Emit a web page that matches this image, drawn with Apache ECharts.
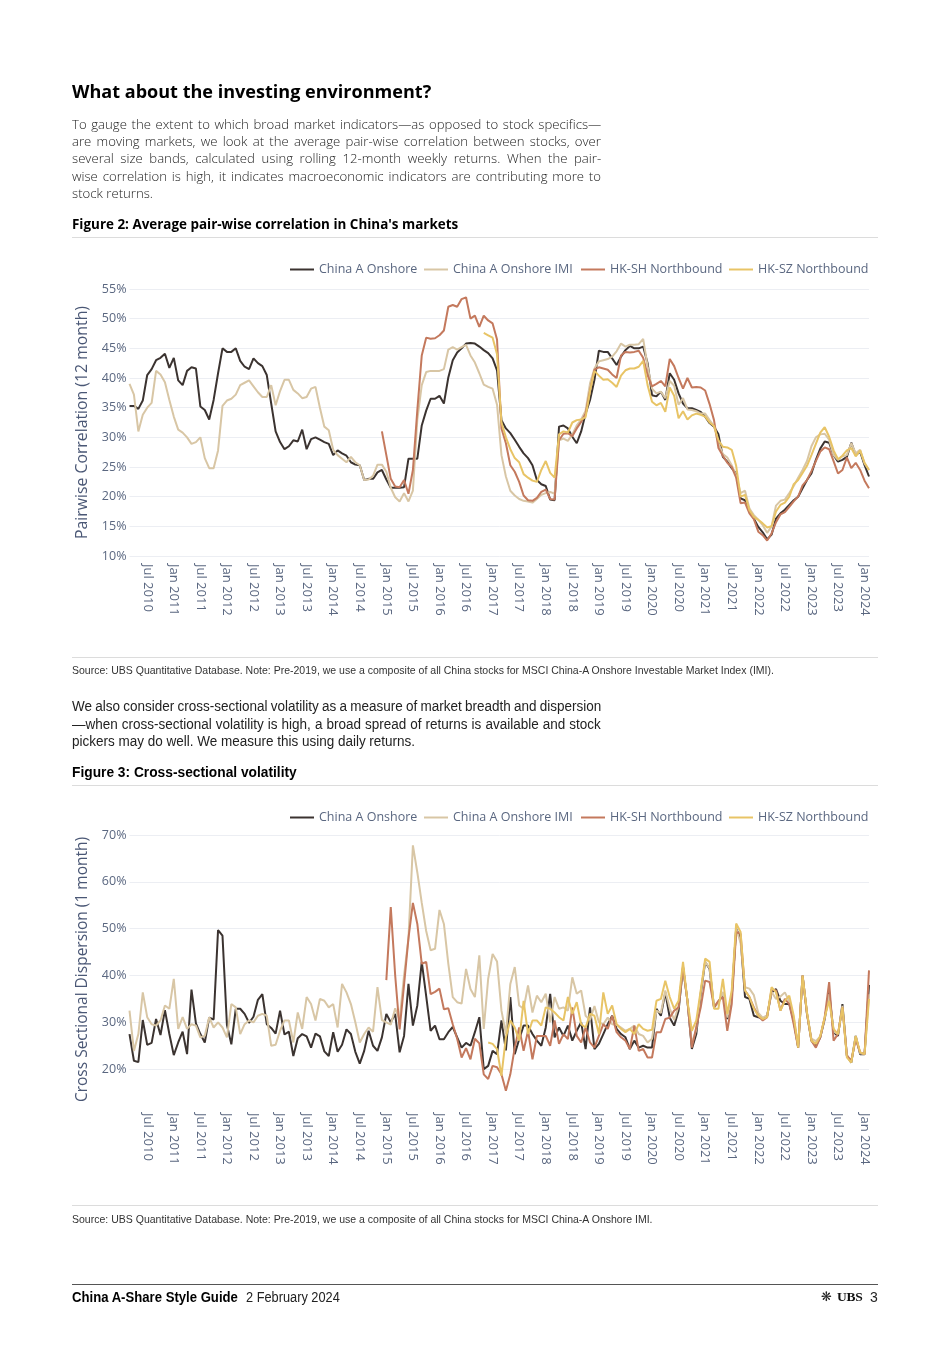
<!DOCTYPE html>
<html>
<head>
<meta charset="utf-8">
<script src="https://cdn.jsdelivr.net/npm/echarts/dist/echarts.min.js"></script>
<style>
  html,body{margin:0;padding:0;background:#fff;}
  body{width:950px;height:1345px;position:relative;overflow:hidden;}
  #chart{position:absolute;left:0;top:0;width:950px;height:1345px;z-index:0;}
  .t{position:absolute;white-space:nowrap;display:inline-block;transform-origin:0 50%;z-index:2;color:#111;line-height:1.2;}
  .rule{position:absolute;left:72px;width:806px;height:1px;background:#dcdcdc;z-index:2;}
  .sans{font-family:'Open Sans','Noto Sans',sans-serif;}
  .narrow{font-family:'Liberation Sans Narrow','Liberation Sans','Arial Narrow',sans-serif;}
</style>
</head>
<body>
<div id="chart"></div>

<div class="t sans" data-w="359" style="left:72px;top:81px;font-size:18px;font-weight:700;color:#000;">What about the investing environment?</div>

<div class="t sans p1" style="left:72px;top:116.8px;font-size:13px;font-weight:300;color:#222;">To gauge the extent to which broad market indicators—as opposed to stock specifics—</div>
<div class="t sans p1" style="left:72px;top:134px;font-size:13px;font-weight:300;color:#222;">are moving markets, we look at the average pair-wise correlation between stocks, over</div>
<div class="t sans p1" style="left:72px;top:151.3px;font-size:13px;font-weight:300;color:#222;">several size bands, calculated using rolling 12-month weekly returns. When the pair-</div>
<div class="t sans p1" style="left:72px;top:168.7px;font-size:13px;font-weight:300;color:#222;">wise correlation is high, it indicates macroeconomic indicators are contributing more to</div>
<div class="t sans p1" style="left:72px;top:185.9px;font-size:13px;font-weight:300;color:#222;">stock returns.</div>

<div class="t sans" data-w="386" style="left:72px;top:215.5px;font-size:13.5px;font-weight:700;color:#000;">Figure 2: Average pair-wise correlation in China's markets</div>
<div class="rule" style="top:236.5px;"></div>

<div class="rule" style="top:656.5px;"></div>
<div class="t narrow" data-w="702" style="left:72px;top:663.5px;font-size:10.5px;color:#333;">Source: UBS Quantitative Database. Note: Pre-2019, we use a composite of all China stocks for MSCI China-A Onshore Investable Market Index (IMI).</div>

<div class="t narrow p2" style="left:72px;top:698.3px;font-size:14px;color:#222;">We also consider cross-sectional volatility as a measure of market breadth and dispersion</div>
<div class="t narrow p2" style="left:72px;top:715.8px;font-size:14px;color:#222;">—when cross-sectional volatility is high, a broad spread of returns is available and stock</div>
<div class="t narrow p2" style="left:72px;top:733.3px;font-size:14px;color:#222;">pickers may do well. We measure this using daily returns.</div>

<div class="t narrow" data-w="225" style="left:72px;top:764px;font-size:14px;font-weight:700;color:#000;">Figure 3: Cross-sectional volatility</div>
<div class="rule" style="top:784.5px;"></div>

<div class="rule" style="top:1204.5px;"></div>
<div class="t narrow" data-w="581" style="left:72px;top:1213px;font-size:10.5px;color:#333;">Source: UBS Quantitative Database. Note: Pre-2019, we use a composite of all China stocks for MSCI China-A Onshore IMI.</div>

<div class="rule" style="top:1283.5px;height:1.5px;background:#555;"></div>
<div class="t narrow" data-w="166" style="left:72px;top:1288.5px;font-size:14px;font-weight:700;color:#000;">China A-Share Style Guide</div>
<div class="t narrow" data-w="94" style="left:246px;top:1288.5px;font-size:14px;color:#222;">2 February 2024</div>
<div class="t" style="left:821px;top:1289px;font-size:13px;color:#222;font-family:'DejaVu Sans',sans-serif;">❋</div>
<div class="t" style="left:837px;top:1288.5px;font-size:13.5px;font-weight:700;color:#111;font-family:'Liberation Serif',serif;letter-spacing:-0.3px;">UBS</div>
<div class="t narrow" style="left:870px;top:1288.5px;font-size:14px;color:#222;">3</div>

<script>
// ---------------- DATA ----------------
// Monthly observations, first month = March 2010, last = February 2024 (168 months)
const firstMonth = '2010-03';
const monthCount = 168;
const monthNames = ['Jan','Feb','Mar','Apr','May','Jun','Jul','Aug','Sep','Oct','Nov','Dec'];
const seriesNames = ['China A Onshore','China A Onshore IMI','HK-SH Northbound','HK-SZ Northbound'];

// Figure 2: average pair-wise correlation (%), rolling 12 months
const corrOnshore = [35.3,35.3,34.8,36.2,40.5,41.5,43.0,43.4,44.1,41.7,
 43.4,39.6,38.8,41.2,41.8,41.6,35.2,34.6,33.0,36.3,
 40.8,45.0,44.4,44.4,45.0,42.9,41.9,41.5,43.3,42.5,
 42.0,40.5,35.7,31.0,29.2,28.0,28.5,29.5,29.3,31.3,
 28.0,29.7,30.0,29.6,29.2,28.9,27.0,27.8,27.3,26.9,
 25.8,25.4,25.3,22.8,23.0,23.0,24.1,24.5,22.9,21.5,
 21.5,21.5,21.6,26.4,26.4,26.4,32.0,34.5,36.5,36.5,
 37.0,35.7,40.1,43.0,44.3,45.0,45.8,45.9,45.8,45.3,
 44.7,44.2,43.3,41.3,32.9,31.5,30.7,29.6,28.4,27.3,
 26.5,25.3,22.8,22.1,21.8,19.5,19.4,31.8,32.0,31.5,
 30.1,29.0,31.0,34.0,36.3,39.7,44.6,44.4,44.4,43.3,
 42.2,43.6,44.7,45.4,45.0,45.0,45.3,42.5,37.1,36.9,
 37.7,36.3,40.8,39.7,37.4,35.7,34.9,34.9,34.6,34.3,
 33.5,32.4,31.8,30.5,26.7,25.9,24.8,23.9,19.7,19.4,
 17.8,16.3,14.9,14.0,12.8,13.6,16.3,17.2,17.8,18.6,
 19.4,20.0,21.4,22.8,23.9,26.2,28.1,29.3,29.1,27.0,
 25.9,26.2,26.7,29.1,27.0,27.6,25.3,23.4];
const corrOnshoreIMI = [39.0,37.2,31.0,33.8,35.0,35.8,41.2,40.6,39.3,36.3,
 33.5,31.3,30.8,30.0,28.9,29.2,30.0,26.5,24.8,24.8,
 27.8,35.3,36.2,36.5,37.2,38.8,39.2,39.6,38.6,37.6,
 36.8,36.8,38.8,35.4,37.8,39.7,39.7,38.0,37.4,36.6,
 36.8,38.2,38.5,35.0,31.8,31.2,27.9,27.0,26.4,25.8,
 26.7,25.8,25.3,22.8,22.9,23.5,25.4,25.4,24.2,21.5,
 19.9,19.2,20.6,19.2,21.0,33.0,38.8,41.0,41.2,41.2,
 41.2,41.5,44.8,45.2,44.8,45.2,45.6,43.8,42.6,40.8,
 38.9,38.5,38.2,35.5,27.0,23.4,21.0,20.2,19.6,19.3,
 19.2,19.0,19.6,20.3,20.6,20.8,20.5,29.5,29.8,29.4,
 30.5,32.0,33.0,34.5,39.1,41.6,42.8,43.0,43.2,43.6,
 44.5,45.8,45.3,45.6,45.6,45.7,46.6,42.0,38.2,37.4,
 37.7,36.6,39.5,38.7,35.5,36.6,34.7,34.6,34.4,34.0,
 34.0,32.9,31.9,29.0,27.2,26.6,25.3,23.5,20.6,21.0,
 18.0,16.9,16.1,15.2,13.9,15.0,18.5,19.3,19.5,20.6,
 21.8,23.2,24.5,26.0,28.5,30.0,30.5,30.6,29.6,27.0,
 26.2,26.8,27.0,29.0,27.3,27.9,25.6,24.5];
const corrHKSHStart = '2014-12';
const corrHKSH = [31.0,27.0,23.0,
 21.7,21.6,22.8,20.5,24.5,34.6,43.8,46.8,46.6,46.7,
 47.2,48.0,52.0,52.3,52.0,53.3,53.6,50.0,50.5,48.6,
 50.5,49.7,49.2,46.5,31.5,29.0,25.3,24.2,22.5,20.2,
 19.4,19.3,19.8,20.8,21.2,19.6,19.5,29.5,30.6,30.7,
 30.2,31.5,32.6,34.0,37.9,41.4,41.8,41.6,41.4,40.6,
 40.0,43.8,44.4,44.3,44.4,44.6,43.4,40.5,38.6,39.0,
 39.5,38.6,43.2,42.0,40.0,38.2,40.0,38.4,38.5,38.4,
 37.9,35.6,32.9,28.2,26.9,25.7,25.0,23.2,18.9,19.0,
 17.2,16.2,14.1,13.5,12.6,13.8,15.7,17.0,17.4,18.3,
 19.2,20.0,21.9,22.8,24.3,26.0,27.6,28.3,28.0,26.0,
 23.9,24.5,26.6,24.8,25.7,24.5,22.7,21.4];
const corrHKSZStart = '2016-11';
const corrHKSZ = [47.6,47.2,46.8,44.0,32.5,30.0,28.0,26.5,25.8,23.8,
 23.2,22.7,22.5,24.5,26.0,24.0,23.2,30.5,31.0,30.8,
 32.5,32.9,33.0,33.4,37.8,41.2,40.4,39.7,39.8,39.2,
 38.5,40.4,41.3,41.6,41.6,41.9,42.9,38.8,36.0,35.4,
 35.8,34.3,38.4,37.0,33.2,34.4,33.0,33.7,34.0,33.8,
 33.5,32.5,31.9,29.5,28.4,28.3,27.9,25.2,20.0,20.3,
 17.7,16.6,16.1,15.5,14.8,15.0,17.5,18.6,19.0,20.0,
 22.1,22.8,24.0,25.2,27.0,28.9,30.8,31.7,30.1,27.8,
 26.3,26.9,27.8,28.2,26.8,27.8,25.7,24.5];

// Figure 3: cross-sectional dispersion (%), 1 month
const dispOnshore = [27.5,21.8,21.5,30.5,25.2,25.6,30.7,27.3,32.6,27.5,
 23.0,25.7,28.0,23.2,37.0,29.8,27.5,25.7,31.0,30.6,
 49.7,48.5,29.5,25.3,32.9,32.9,31.8,29.9,31.2,34.8,
 36.0,29.6,28.8,27.6,32.5,27.4,28.0,22.8,26.6,27.5,
 27.0,24.6,27.6,27.0,23.8,22.8,27.9,23.7,25.2,28.5,
 27.5,23.7,21.2,23.9,28.2,25.0,23.9,26.8,31.8,30.0,
 31.8,23.6,27.1,38.2,29.3,33.6,42.9,35.6,28.2,29.3,
 26.4,26.4,27.9,29.0,26.8,24.6,25.6,25.0,27.9,31.1,
 20.0,20.7,23.9,23.2,30.4,24.0,35.4,23.2,26.4,29.3,
 29.3,27.5,26.1,25.0,28.9,36.1,26.8,28.9,27.1,29.3,
 26.1,28.2,30.0,24.3,33.2,24.3,25.4,27.5,29.6,31.4,
 28.6,27.5,26.8,24.3,26.1,24.6,25.0,24.6,24.6,32.9,
 31.4,36.4,31.0,29.3,32.5,41.8,34.6,24.3,27.5,36.1,
 42.9,41.4,33.2,34.3,36.1,30.7,35.4,50.0,47.9,35.4,
 35.0,31.4,31.1,30.7,31.4,36.4,37.1,34.6,33.9,33.9,
 30.4,24.6,40.0,31.8,26.1,25.0,26.8,30.7,36.4,27.9,
 27.1,33.9,22.9,21.4,27.1,23.2,23.2,38.0];
const dispOnshoreIMI = [32.5,23.9,27.5,36.4,31.1,29.6,29.3,30.4,33.6,32.9,
 39.3,28.6,31.1,28.6,29.6,29.3,26.8,27.1,31.1,28.9,
 30.0,28.9,26.8,33.9,33.2,27.5,29.6,30.4,30.0,31.4,
 31.8,31.4,25.0,25.2,28.2,30.4,30.4,25.7,32.1,28.6,
 35.4,33.9,30.4,35.0,34.6,33.2,33.9,28.9,38.2,36.4,
 33.9,30.0,25.7,27.5,28.9,28.0,37.5,30.5,30.0,29.5,
 33.0,30.5,40.0,48.0,67.8,62.0,55.5,49.5,45.4,45.7,
 54.0,51.0,42.5,35.4,34.3,34.0,41.4,37.1,35.4,44.3,
 28.6,39.3,44.6,43.0,32.5,27.5,38.2,41.8,33.6,32.9,
 37.9,32.1,35.7,34.3,36.1,30.0,35.4,32.9,33.2,32.5,
 39.6,36.1,36.8,31.4,30.5,33.5,30.0,29.6,31.0,29.6,
 29.5,28.9,28.2,28.6,29.3,27.5,27.1,25.7,26.5,32.5,
 32.0,36.8,33.0,30.5,33.5,42.0,34.5,25.5,28.5,36.5,
 43.0,41.5,33.5,34.0,36.5,31.0,35.5,50.0,47.0,37.5,
 37.2,35.8,32.0,31.0,31.5,36.5,35.0,35.5,36.4,34.5,
 31.0,25.0,40.0,32.0,26.5,26.0,27.0,31.0,36.0,28.0,
 27.5,33.5,23.0,21.6,27.0,23.4,23.2,36.0];
const dispHKSHStart = '2015-01';
const dispHKSH = [39.0,54.6,
 40.0,28.5,38.0,48.0,55.5,51.0,42.5,42.9,36.0,36.5,
 37.2,32.8,33.0,29.6,26.5,22.5,24.5,22.1,26.5,25.5,
 18.9,17.9,20.7,20.4,18.9,15.4,18.9,24.6,28.9,23.9,
 28.2,22.1,27.1,27.1,27.1,25.0,30.4,25.4,27.5,26.4,
 33.2,27.1,25.7,28.9,25.7,24.6,27.1,29.6,28.6,31.4,
 27.9,26.8,26.1,24.3,29.3,23.9,24.3,22.5,22.5,27.9,
 27.9,30.7,31.0,32.5,33.2,41.8,34.6,24.6,29.0,33.2,
 38.9,38.6,33.2,34.6,35.4,28.2,33.9,49.3,48.9,36.8,
 35.4,33.2,31.4,30.4,31.1,37.1,36.8,32.5,35.0,33.9,
 29.6,24.6,40.0,31.8,26.1,24.6,26.8,31.1,38.6,26.1,
 27.5,33.2,22.9,21.8,26.4,23.6,23.2,41.1];
const dispHKSZStart = '2016-12';
const dispHKSZ = [25.7,25.4,24.3,18.6,26.8,30.4,28.9,26.1,34.6,
 27.5,30.4,30.4,29.3,33.2,32.9,32.1,31.1,30.4,35.4,
 31.8,34.3,29.6,28.9,31.8,31.4,27.5,36.4,31.8,33.6,
 29.6,28.6,27.9,28.6,27.5,29.6,28.6,28.2,28.4,34.6,
 35.0,38.9,35.4,32.9,34.6,42.9,34.6,28.2,30.4,36.8,
 43.6,42.9,32.9,32.9,39.3,31.8,36.8,51.1,49.3,36.8,
 35.4,32.9,31.4,30.7,31.1,37.5,36.4,32.5,34.6,35.7,
 31.4,24.6,40.0,32.1,26.1,25.4,27.1,31.1,34.6,28.6,
 27.5,33.2,22.5,21.4,27.1,23.6,23.2,35.0];

// ---------------- BUILD ----------------
const months = [];
(function(){
  let y = +firstMonth.slice(0,4), m = +firstMonth.slice(5,7);
  for (let k = 0; k < monthCount; k++) {
    months.push(y + '-' + String(m).padStart(2,'0'));
    m++; if (m > 12) { m = 1; y++; }
  }
})();
function fromMonth(startMonth, values) {
  const s = months.indexOf(startMonth);
  const out = new Array(monthCount).fill(null);
  values.forEach((v, k) => { if (s + k < monthCount) out[s + k] = v; });
  return out;
}
function full(values) { return fromMonth(firstMonth, values); }

const colors = ['#3b3330', '#d8c6a5', '#c4795d', '#e8c466'];
const labelColor = '#5a6780';
const font = "'Open Sans','Noto Sans',sans-serif";

function xAxisFor(g) {
  return {
    type: 'category', gridIndex: g, data: months, boundaryGap: false,
    axisLine: {show: false}, axisTick: {show: false}, splitLine: {show: false},
    axisLabel: {
      interval: (i, v) => /-(01|07)$/.test(v),
      rotate: -90, margin: g === 0 ? 8 : -3, color: labelColor, fontSize: 13, fontFamily: font,
      formatter: v => monthNames[+v.slice(5,7) - 1] + ' ' + v.slice(0,4)
    }
  };
}
function lineSeries(name, data, xi, yi, idx) {
  return {
    name, type: 'line', data, xAxisIndex: xi, yAxisIndex: yi,
    showSymbol: false, symbol: 'none', connectNulls: false,
    lineStyle: {color: colors[idx], width: 2}, itemStyle: {color: colors[idx]},
    z: 2 + idx, emphasis: {disabled: true}
  };
}
const legendLefts = [290, 424, 581, 729];
function legends(top) {
  return seriesNames.map((n, k) => ({
    left: legendLefts[k], top, data: [n], selectedMode: false, padding: 0,
    icon: 'path://M0,0H24V2H0Z', itemWidth: 24, itemHeight: 2, itemGap: 5,
    textStyle: {color: labelColor, fontSize: 12.5, fontFamily: font}
  }));
}

const chart = echarts.init(document.getElementById('chart'), null, {renderer: 'canvas'});
chart.setOption({
  backgroundColor: 'transparent',
  animation: false,
  grid: [
    {left: 129.5, top: 289, width: 739.5, height: 267},
    {left: 129.5, top: 835, width: 739.5, height: 281}
  ],
  legend: legends(263).concat(legends(811)),
  xAxis: [xAxisFor(0), xAxisFor(1)],
  yAxis: [
    {
      type: 'value', gridIndex: 0, min: 10, max: 55, interval: 5,
      name: 'Pairwise Correlation (12 month)', nameLocation: 'middle', nameRotate: 90, nameGap: 35,
      nameTextStyle: {color: '#4a5775', fontSize: 15.8, fontFamily: font},
      axisLine: {show: false}, axisTick: {show: false},
      axisLabel: {formatter: '{value}%', margin: 3, color: labelColor, fontSize: 12.5, fontFamily: font},
      splitLine: {lineStyle: {color: '#eceef3', width: 1}}
    },
    {
      type: 'value', gridIndex: 1, min: 10, max: 70, interval: 10,
      name: 'Cross Sectional Dispersion (1 month)', nameLocation: 'middle', nameRotate: 90, nameGap: 35,
      nameTextStyle: {color: '#4a5775', fontSize: 15.5, fontFamily: font, padding: [0,0,0,12]},
      axisLine: {show: false}, axisTick: {show: false},
      axisLabel: {formatter: v => v === 10 ? '' : v + '%', margin: 3, color: labelColor, fontSize: 12.5, fontFamily: font},
      splitLine: {lineStyle: {color: ['rgba(0,0,0,0)','#eceef3','#eceef3','#eceef3','#eceef3','#eceef3','#eceef3'], width: 1}}
    }
  ],
  series: [
    lineSeries(seriesNames[0], full(corrOnshore), 0, 0, 0),
    lineSeries(seriesNames[1], full(corrOnshoreIMI), 0, 0, 1),
    lineSeries(seriesNames[2], fromMonth(corrHKSHStart, corrHKSH), 0, 0, 2),
    lineSeries(seriesNames[3], fromMonth(corrHKSZStart, corrHKSZ), 0, 0, 3),
    lineSeries(seriesNames[0], full(dispOnshore), 1, 1, 0),
    lineSeries(seriesNames[1], full(dispOnshoreIMI), 1, 1, 1),
    lineSeries(seriesNames[2], fromMonth(dispHKSHStart, dispHKSH), 1, 1, 2),
    lineSeries(seriesNames[3], fromMonth(dispHKSZStart, dispHKSZ), 1, 1, 3)
  ]
});

// ---------------- TEXT FITTING ----------------
function fitText() {
  document.querySelectorAll('[data-w]').forEach(el => {
    el.style.transform = '';
    const w = el.offsetWidth;
    if (w > 0) el.style.transform = 'scaleX(' + (+el.dataset.w / w) + ')';
  });
  function block(sel, lastW, fullW) {
    const els = Array.from(document.querySelectorAll(sel));
    els.forEach(el => { el.style.wordSpacing = ''; el.style.transform = ''; });
    const last = els[els.length - 1];
    const s = lastW / last.offsetWidth;
    els.forEach((el, k) => {
      if (k < els.length - 1) {
        const n = (el.textContent.match(/ /g) || []).length;
        const w = el.offsetWidth;
        if (n) el.style.wordSpacing = ((fullW / s - w) / n) + 'px';
      }
      el.style.transform = 'scaleX(' + s + ')';
    });
  }
  block('.p1', 81, 529);
  block('.p2', 343, 529);
}
fitText();
if (document.fonts && document.fonts.ready) document.fonts.ready.then(fitText);
</script>
</body>
</html>
